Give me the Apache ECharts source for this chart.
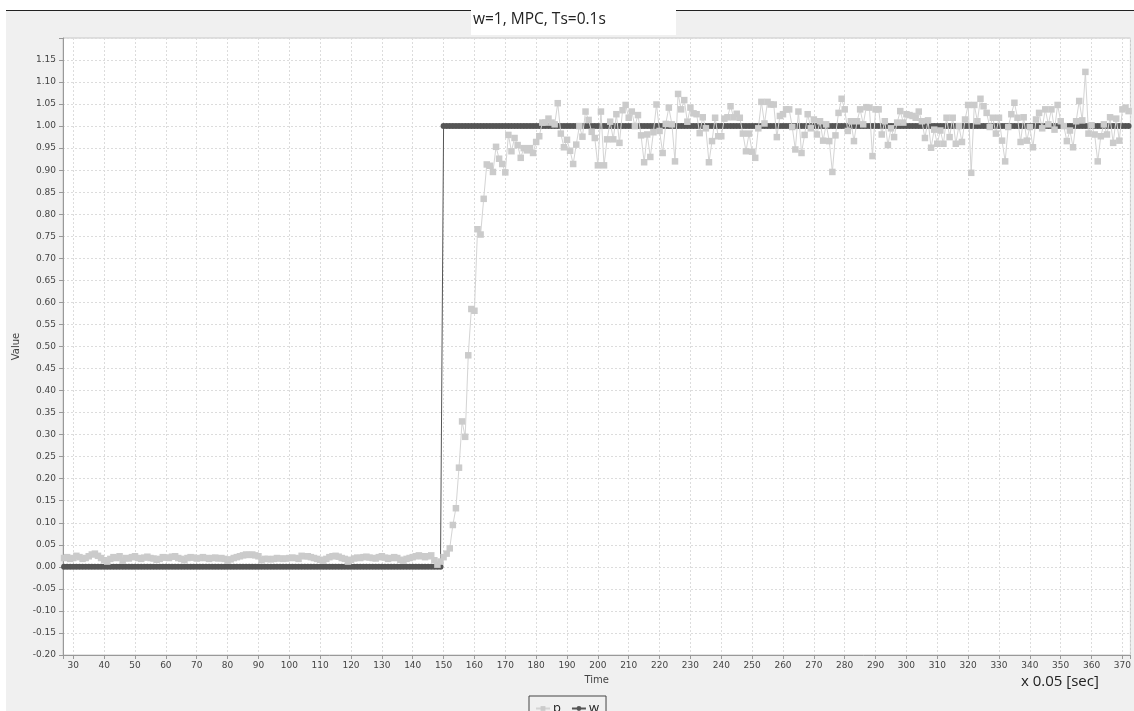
<!DOCTYPE html>
<html><head><meta charset="utf-8">
<script src="https://cdn.jsdelivr.net/npm/echarts@6/dist/echarts.min.js"></script>
<style>html,body{margin:0;padding:0;background:#fff}#c{width:1134px;height:711px}</style>
</head><body><div id="c"></div>
<script>
// sample index of the first point shown (units of 0.05 s)
const tStart = 27;

// p : measured output, samples 27..151
const pBefore = [
  0.02, 0.022, 0.018, 0.02, 0.025, 0.022, 0.018, 0.02, 0.024, 0.028,
  0.03, 0.025, 0.02, 0.015, 0.012, 0.018, 0.022, 0.02, 0.024, 0.014,
  0.02, 0.019, 0.022, 0.024, 0.02, 0.018, 0.021, 0.023, 0.02, 0.019,
  0.016, 0.018, 0.022, 0.021, 0.02, 0.023, 0.024, 0.02, 0.018, 0.015,
  0.02, 0.022, 0.021, 0.019, 0.02, 0.022, 0.02, 0.018, 0.02, 0.021,
  0.019, 0.02, 0.018, 0.014, 0.017, 0.02, 0.022, 0.024, 0.026, 0.028,
  0.027, 0.028, 0.026, 0.024, 0.015, 0.018, 0.018, 0.017, 0.018, 0.02,
  0.019, 0.018, 0.019, 0.02, 0.021, 0.02, 0.018, 0.025, 0.024, 0.024,
  0.022, 0.02, 0.018, 0.016, 0.014, 0.018, 0.022, 0.024, 0.025, 0.023,
  0.02, 0.018, 0.012, 0.016, 0.019, 0.021, 0.02, 0.022, 0.023, 0.021,
  0.02, 0.019, 0.022, 0.024, 0.021, 0.018, 0.02, 0.022, 0.02, 0.016,
  0.014, 0.018, 0.02, 0.022, 0.024, 0.026, 0.024, 0.022, 0.024, 0.026,
  0.015, 0.005, 0.012, 0.022, 0.03
];
// p : samples 152..179
const pRise = [
  0.042, 0.095, 0.133, 0.225, 0.33, 0.295, 0.48, 0.585, 0.581, 0.766,
  0.754, 0.835, 0.913, 0.91, 0.896, 0.953, 0.926, 0.914, 0.895, 0.98,
  0.943, 0.973, 0.957, 0.928, 0.95, 0.945, 0.95, 0.939
];
// p : samples 180..372
const pSettled = [
  0.964, 0.977, 1.008, 1.008, 1.017, 1.008, 1.004, 1.052, 0.983, 0.952,
  0.969, 0.944, 0.914, 0.958, 1.0, 0.976, 1.033, 1.014, 0.987, 0.973,
  0.911, 1.033, 0.911, 0.97, 1.01, 0.97, 1.027, 0.962, 1.036, 1.048,
  1.019, 1.033, 1.0, 1.025, 0.979, 0.918, 0.981, 0.93, 0.986, 1.049,
  0.989, 0.939, 1.005, 1.042, 1.004, 0.92, 1.073, 1.038, 1.059, 1.01,
  1.042, 1.029, 1.027, 0.984, 1.02, 0.995, 0.918, 0.966, 1.019, 0.977,
  0.977, 1.017, 1.02, 1.045, 1.02, 1.028, 1.019, 0.983, 0.943, 0.983,
  0.942, 0.928, 0.995, 1.055, 1.006, 1.055, 1.049, 1.049, 0.975, 1.023,
  1.027, 1.038,
  1.038, 0.998, 0.947, 1.033, 0.939, 0.98, 1.027, 0.995, 1.015, 0.981,
  1.011, 0.967, 1.004, 0.966, 0.896, 0.979, 1.03, 1.062, 1.038, 0.989,
  1.011, 0.966, 1.011, 1.038, 1.004, 1.043, 1.042, 0.932, 1.038, 1.038,
  0.981, 1.011, 0.957, 0.995, 0.975, 1.008, 1.034, 1.008, 1.027, 1.025,
  1.023, 1.019, 1.033, 1.011, 0.973, 1.013, 0.951, 0.992, 0.96, 0.99,
  0.96, 1.019, 0.975, 1.019, 0.96, 1.0, 0.964, 1.015, 1.048, 0.894,
  1.048, 1.011, 1.062, 1.045, 1.03, 0.998, 1.019, 0.983, 1.019, 0.967,
  0.92, 0.998, 1.027, 1.053, 1.019, 0.964, 1.02, 0.967, 0.998, 0.952,
  1.015, 1.03, 0.995, 1.038, 1.004, 1.038, 0.992, 1.048, 1.011, 1.0,
  0.966, 0.99, 0.952, 1.011, 1.057, 1.013, 1.123, 0.983, 1.002, 0.981,
  0.92, 0.977, 1.004, 0.981, 1.02, 0.962, 1.017, 0.967, 1.038, 1.042,
  1.034
];

// w : set-point, samples 27..149
const wBefore = [
  0,0,0,0,0,0,0,0,0,0,0,0,0,0,0,0,0,0,0,0,
  0,0,0,0,0,0,0,0,0,0,0,0,0,0,0,0,0,0,0,0,
  0,0,0,0,0,0,0,0,0,0,0,0,0,0,0,0,0,0,0,0,
  0,0,0,0,0,0,0,0,0,0,0,0,0,0,0,0,0,0,0,0,
  0,0,0,0,0,0,0,0,0,0,0,0,0,0,0,0,0,0,0,0,
  0,0,0,0,0,0,0,0,0,0,0,0,0,0,0,0,0,0,0,0,
  0,0,0
];
// w : set-point, samples 150..372
const wAfter = [
  1,1,1,1,1,1,1,1,1,1,1,1,1,1,1,1,1,1,1,1,
  1,1,1,1,1,1,1,1,1,1,1,1,1,1,1,1,1,1,1,1,
  1,1,1,1,1,1,1,1,1,1,1,1,1,1,1,1,1,1,1,1,
  1,1,1,1,1,1,1,1,1,1,1,1,1,1,1,1,1,1,1,1,
  1,1,1,1,1,1,1,1,1,1,1,1,1,1,1,1,1,1,1,1,
  1,1,1,1,1,1,1,1,1,1,1,1,1,1,1,1,1,1,1,1,
  1,1,1,1,1,1,1,1,1,1,1,1,1,1,1,1,1,1,1,1,
  1,1,1,1,1,1,1,1,1,1,1,1,1,1,1,1,1,1,1,1,
  1,1,1,1,1,1,1,1,1,1,1,1,1,1,1,1,1,1,1,1,
  1,1,1,1,1,1,1,1,1,1,1,1,1,1,1,1,1,1,1,1,
  1,1,1,1,1,1,1,1,1,1,1,1,1,1,1,1,1,1,1,1,
  1,1,1
];

const titleText = 'w=1, MPC, Ts=0.1s';
const unitText = 'x 0.05 [sec]';

const pVals = pBefore.concat(pRise, pSettled);
const wVals = wBefore.concat(wAfter);
const pData = pVals.map((v, i) => [tStart + i, v]);
const wData = wVals.map((v, i) => [tStart + i, v]);

const chart = echarts.init(document.getElementById('c'), null, {renderer: 'canvas'});
const axisFont = {fontFamily: 'DejaVu Sans', fontSize: 9, color: '#444'};
const grid = {left: 63, top: 38, width: 1069, height: 617};
chart.setOption({
  animation: false,
  backgroundColor: '#f0f0f0',
  grid: Object.assign({show: true, backgroundColor: '#fff', borderColor: '#c8c8c8', borderWidth: 1}, grid),
  graphic: [
    {type: 'rect', shape: {x: 0, y: 0, width: 1134, height: 10}, style: {fill: '#fff'}, silent: true},
    {type: 'rect', shape: {x: 0, y: 0, width: 6, height: 711}, style: {fill: '#fff'}, silent: true},
    {type: 'line', shape: {x1: 6, y1: 10.5, x2: 1134, y2: 10.5}, style: {stroke: '#222', lineWidth: 1}, silent: true},
    {type: 'rect', shape: {x: 471, y: 10, width: 205, height: 25}, style: {fill: '#fff'}, silent: true},
    {type: 'text', left: 473, top: 12, style: {text: titleText, fontFamily: 'Open Sans', fontSize: 15.5, fill: '#222'}, silent: true},
    {type: 'text', left: 1021, top: 674, style: {text: unitText, fontFamily: 'Open Sans', fontSize: 15, fill: '#222'}, silent: true}
  ],
  legend: {
    data: ['p', 'w'],
    left: 529, top: 696,
    orient: 'horizontal',
    borderColor: '#444', borderWidth: 1,
    padding: [6, 7, 6, 6],
    itemWidth: 14, itemHeight: 6, itemGap: 10,
    textStyle: {fontFamily: 'Open Sans', fontSize: 13, color: '#222', padding: [0, 0, 0, -2]}
  },
  xAxis: {
    type: 'value', min: 26.66, max: 372.6, splitNumber: 35,
    name: 'Time', nameLocation: 'middle', nameGap: 20,
    nameTextStyle: {fontFamily: 'DejaVu Sans', fontSize: 10, color: '#444'},
    axisLine: {show: true, onZero: false, lineStyle: {color: '#999', width: 1}},
    axisTick: {show: true, length: 4, inside: false, lineStyle: {color: '#999'}},
    axisLabel: Object.assign({margin: 6, formatter: v => (Math.abs(v - Math.round(v / 10) * 10) < 1e-6 ? String(Math.round(v)) : '')}, axisFont),
    splitLine: {show: true, lineStyle: {color: '#dcdcdc', type: [2, 2], width: 1}}
  },
  yAxis: {
    type: 'value', min: -0.2, max: 1.1999, interval: 0.05,
    name: 'Value', nameLocation: 'middle', nameGap: 42, nameRotate: 90,
    nameTextStyle: {fontFamily: 'DejaVu Sans', fontSize: 10, color: '#444'},
    axisLine: {show: true, onZero: false, lineStyle: {color: '#999', width: 1}},
    axisTick: {show: true, length: 4, inside: false, lineStyle: {color: '#999'}},
    axisLabel: Object.assign({margin: 7, formatter: v => (v > 1.16 ? '' : v.toFixed(2))}, axisFont),
    splitLine: {show: true, lineStyle: {color: '#dcdcdc', type: [2, 2], width: 1}}
  },
  series: [
    {
      name: 'w', type: 'line', data: wData,
      symbol: 'circle', symbolSize: 6, showSymbol: true, showAllSymbol: true,
      lineStyle: {color: '#555', width: 1},
      itemStyle: {color: '#555'},
      z: 2
    },
    {
      name: 'p', type: 'line', data: pData,
      symbol: 'rect', symbolSize: 6.5, showSymbol: true, showAllSymbol: true,
      lineStyle: {color: '#d4d4d4', width: 1},
      itemStyle: {color: '#cbcbcb'},
      z: 3
    }
  ]
});
</script></body></html>
